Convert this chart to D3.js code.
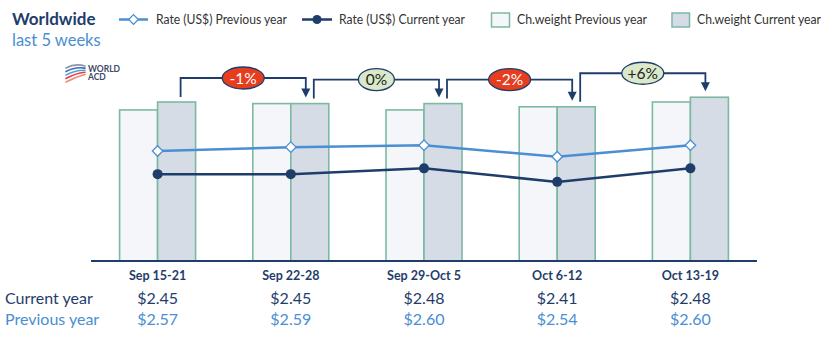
<!DOCTYPE html>
<html>
<head>
<meta charset="utf-8">
<script src="https://cdn.jsdelivr.net/npm/d3@7"></script>
<style>
  html, body { margin: 0; padding: 0; background: #ffffff; }
  svg { display: block; font-family: Lato, "Open Sans", sans-serif; }
</style>
</head>
<body>
<svg id="chart" width="827" height="343"></svg>
<script>
// Weekly worldwide air cargo: chargeable weight (bars) and average rate (lines)
const weeks = ["Sep 15-21", "Sep 22-28", "Sep 29-Oct 5", "Oct 6-12", "Oct 13-19"];
const weightPrev = [95, 99, 95, 97, 100];     // chargeable weight index, previous year
const weightCurr = [100, 99, 99, 97, 103];    // chargeable weight index, current year
const ratePrev = [2.57, 2.59, 2.60, 2.54, 2.60];
const rateCurr = [2.45, 2.45, 2.48, 2.41, 2.48];
const weekChange = ["-1%", "0%", "-2%", "+6%"]; // week-on-week change, current-year weight

const navy = "#1f3d6b";
const lightBlue = "#4a8ed3";
const barStroke = "#7db9a2";
const fillPrev = "#f4f6f9";
const fillCurr = "#d5dce6";

const svg = d3.select("#chart");

const x = d3.scaleBand().domain(weeks).range([91, 757]).padding(0);
const barW = 38;
const cx = d => x(d) + x.bandwidth() / 2;

const yW = d3.scaleLinear().domain([0, 100]).range([261, 102]);
const yR = d3.scaleLinear().domain([2.0, 2.8]).range([261, 106.6]);

// Title
svg.append("text").attr("x", 12).attr("y", 25)
  .attr("font-size", 17).attr("font-weight", 700).attr("fill", navy).text("Worldwide");
svg.append("text").attr("x", 12).attr("y", 46)
  .attr("font-size", 16.5).attr("fill", lightBlue).text("last 5 weeks");

// Legend
const lg = svg.append("g").attr("font-size", 12.5).attr("fill", "#333");
const legendText = (x0, w, t) => lg.append("text").attr("x", x0).attr("y", 24)
  .attr("textLength", w).attr("lengthAdjust", "spacingAndGlyphs").text(t);
lg.append("line").attr("x1", 119).attr("x2", 148).attr("y1", 19.5).attr("y2", 19.5)
  .attr("stroke", lightBlue).attr("stroke-width", 2.5);
lg.append("path").attr("d", d3.symbol(d3.symbolDiamond2, 60)())
  .attr("transform", "translate(133.5,19.5)")
  .attr("fill", "#fff").attr("stroke", lightBlue).attr("stroke-width", 1.3);
legendText(156, 131, "Rate (US$) Previous year");
lg.append("line").attr("x1", 302).attr("x2", 332).attr("y1", 19.5).attr("y2", 19.5)
  .attr("stroke", navy).attr("stroke-width", 2.5);
lg.append("circle").attr("cx", 317).attr("cy", 19.5).attr("r", 4.5).attr("fill", navy);
legendText(339, 126, "Rate (US$) Current year");
lg.append("rect").attr("x", 491.5).attr("y", 13).attr("width", 18).attr("height", 14)
  .attr("fill", fillPrev).attr("stroke", barStroke).attr("stroke-width", 1.5);
legendText(517, 130, "Ch.weight Previous year");
lg.append("rect").attr("x", 672).attr("y", 13).attr("width", 17.5).attr("height", 14)
  .attr("fill", fillCurr).attr("stroke", barStroke).attr("stroke-width", 1.5);
legendText(697, 124, "Ch.weight Current year");

// WORLD ACD logo mark
const logo = svg.append("g").attr("transform", "translate(66,64)");
[["#8a96a8", 0], ["#3b6fb6", 3.5], ["#5aa0dd", 7], ["#e2453a", 10.5], ["#f08b7e", 14]].forEach(([c, dy]) => {
  logo.append("path")
    .attr("d", `M0,${4 + dy} Q9,${-1 + dy} 19,${2 + dy * 0.6}`)
    .attr("fill", "none").attr("stroke", c).attr("stroke-width", 1.6).attr("stroke-linecap", "round");
});
svg.append("text").attr("x", 88).attr("y", 71.5).attr("font-size", 8.5).attr("font-weight", 700)
  .attr("fill", "#3c4a66").text("WORLD");
svg.append("text").attr("x", 88).attr("y", 80).attr("font-size", 8.5).attr("font-weight", 700)
  .attr("fill", "#3c4a66").text("ACD");

// Bars
const bars = svg.append("g");
bars.selectAll("rect.prev").data(weeks).join("rect").attr("class", "prev")
  .attr("x", d => cx(d) - barW).attr("width", barW)
  .attr("y", (d, i) => yW(weightPrev[i])).attr("height", (d, i) => yW(0) - yW(weightPrev[i]))
  .attr("fill", fillPrev).attr("stroke", barStroke).attr("stroke-width", 1.6);
bars.selectAll("rect.curr").data(weeks).join("rect").attr("class", "curr")
  .attr("x", d => cx(d)).attr("width", barW)
  .attr("y", (d, i) => yW(weightCurr[i])).attr("height", (d, i) => yW(0) - yW(weightCurr[i]))
  .attr("fill", fillCurr).attr("stroke", barStroke).attr("stroke-width", 1.6);

// Category axis
svg.append("line").attr("x1", 91).attr("x2", 757).attr("y1", 261).attr("y2", 261)
  .attr("stroke", navy).attr("stroke-width", 2);
svg.append("g").selectAll("text").data(weeks).join("text")
  .attr("x", d => cx(d)).attr("y", 280).attr("text-anchor", "middle")
  .attr("font-size", 12.5).attr("font-weight", 700).attr("fill", navy).text(d => d);

// Rate lines
const line = d3.line().x(d => d[0]).y(d => d[1]);
const prevPts = weeks.map((w, i) => [cx(w), yR(ratePrev[i])]);
const currPts = weeks.map((w, i) => [cx(w), yR(rateCurr[i])]);
svg.append("path").attr("d", line(prevPts)).attr("fill", "none")
  .attr("stroke", lightBlue).attr("stroke-width", 2.5);
svg.append("path").attr("d", line(currPts)).attr("fill", "none")
  .attr("stroke", navy).attr("stroke-width", 2.5);
svg.append("g").selectAll("path").data(prevPts).join("path")
  .attr("d", d3.symbol(d3.symbolDiamond2, 70)())
  .attr("transform", d => `translate(${d[0]},${d[1]})`)
  .attr("fill", "#fff").attr("stroke", lightBlue).attr("stroke-width", 1.3);
svg.append("g").selectAll("circle").data(currPts).join("circle")
  .attr("cx", d => d[0]).attr("cy", d => d[1]).attr("r", 5).attr("fill", navy);

// Week-on-week change brackets
const br = svg.append("g");
weekChange.forEach((lbl, i) => {
  const xa = cx(weeks[i]) + barW / 2 + 4;
  const xb = cx(weeks[i + 1]) + barW / 2 - 4;
  const topA = yW(weightCurr[i]);
  const topB = yW(weightCurr[i + 1]);
  const lvl = Math.min(topA, topB) - 24;
  const tip = topB - 6;
  br.append("path")
    .attr("d", `M${xa},${topA - 5} V${lvl} H${xb} V${tip - 8}`)
    .attr("fill", "none").attr("stroke", navy).attr("stroke-width", 1.8);
  br.append("path")
    .attr("d", `M${xb - 4.5},${tip - 9} L${xb + 4.5},${tip - 9} L${xb},${tip} Z`)
    .attr("fill", navy);
  const neg = lbl.startsWith("-");
  const mx = (xa + xb) / 2;
  br.append("ellipse").attr("cx", mx).attr("cy", lvl).attr("rx", lbl.length > 2 ? 21 : 18).attr("ry", 11)
    .attr("fill", neg ? "#e63d1f" : "#d9e9c9").attr("stroke", navy).attr("stroke-width", 1.3);
  br.append("text").attr("x", mx).attr("y", lvl + 5.5).attr("text-anchor", "middle")
    .attr("font-size", 15.5).attr("fill", neg ? "#fff" : "#222").text(lbl);
});

// Rate table below the axis
const fmt = v => "$" + v.toFixed(2);
svg.append("text").attr("x", 5).attr("y", 304).attr("font-size", 16).attr("fill", navy).text("Current year");
svg.append("text").attr("x", 5).attr("y", 325).attr("font-size", 16).attr("fill", lightBlue).text("Previous year");
svg.append("g").selectAll("text").data(rateCurr).join("text")
  .attr("x", (d, i) => cx(weeks[i])).attr("y", 304).attr("text-anchor", "middle")
  .attr("font-size", 16).attr("fill", navy).text(fmt);
svg.append("g").selectAll("text").data(ratePrev).join("text")
  .attr("x", (d, i) => cx(weeks[i])).attr("y", 325).attr("text-anchor", "middle")
  .attr("font-size", 16).attr("fill", lightBlue).text(fmt);
</script>
</body>
</html>
